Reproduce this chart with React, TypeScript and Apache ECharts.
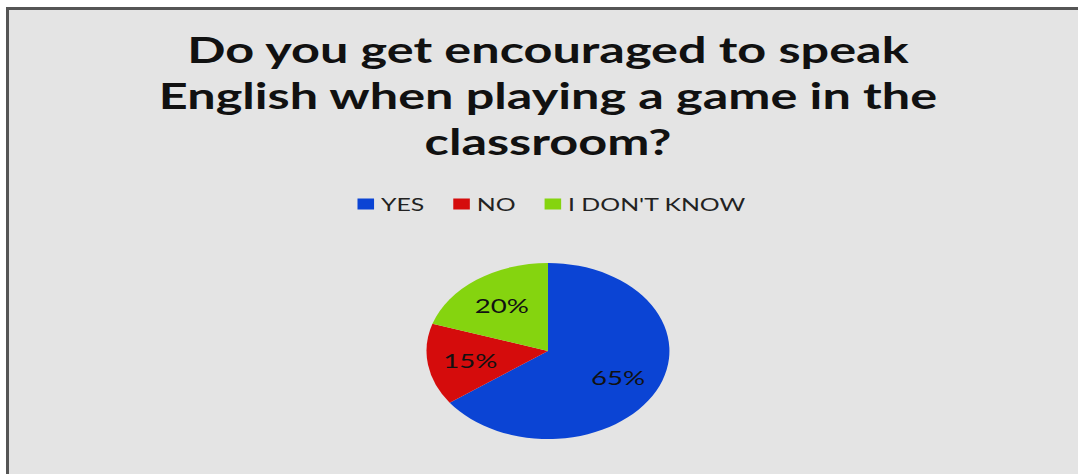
import React, { useEffect, useRef } from "react";
import * as echarts from "echarts";

const titleLines = [
  "Do you get encouraged to speak",
  "English when playing a game in the",
  "classroom?",
];
const categories = ["YES", "NO", "I DON'T KNOW"];
const values = [65, 15, 20];
const colors = ["#0b44d4", "#d50c0c", "#85d40f"];

const STRETCH = 1.38;
const W = Math.round(1078 / STRETCH);
const H = 474;
const CX = 397;

export default function App() {
  const ref = useRef<HTMLDivElement>(null);
  useEffect(() => {
    if (!ref.current) return;
    const chart = echarts.init(ref.current, null, { renderer: "svg", width: W, height: H });
    const data = categories.map((name, i) => ({ name, value: values[i] }));
    chart.setOption({
      animation: false,
      backgroundColor: "transparent",
      color: colors,
      title: {
        text: titleLines.join("\n"),
        left: CX - 5,
        top: 21,
        textAlign: "center",
        textStyle: {
          fontFamily: "Lato",
          fontWeight: "bold",
          fontSize: 36.5,
          lineHeight: 46,
          color: "#111",
        },
      },
      legend: {
        data: categories,
        left: 254,
        top: 190,
        itemWidth: 12,
        itemHeight: 11,
        itemGap: 21,
        icon: "rect",
        textStyle: { fontFamily: "Lato", fontSize: 18, color: "#222" },
      },
      series: [
        {
          type: "pie",
          center: [CX, 351],
          radius: [0, 88],
          data,
          silent: true,
          itemStyle: { borderWidth: 0 },
          label: { show: false },
          labelLine: { show: false },
        },
        {
          type: "pie",
          center: [CX, 351],
          radius: [0, 108],
          data,
          silent: true,
          itemStyle: { color: "transparent", borderWidth: 0 },
          label: {
            show: true,
            position: "inside",
            formatter: "{c}%",
            fontFamily: "Lato",
            fontSize: 20,
            color: "#111",
          },
          labelLine: { show: false },
        },
      ],
    });
    return () => chart.dispose();
  }, []);

  return (
    <div
      style={{
        position: "absolute",
        left: 0,
        top: 0,
        width: 1078,
        height: 474,
        background: "#ffffff",
        overflow: "hidden",
      }}
    >
      <div
        style={{
          position: "absolute",
          left: 6,
          top: 7,
          width: 1100,
          height: 500,
          background: "#e4e4e4",
          borderLeft: "3px solid #555555",
          borderTop: "3px solid #555555",
        }}
      />
      <div
        ref={ref}
        style={{
          position: "absolute",
          left: 0,
          top: 0,
          width: W,
          height: H,
          transform: `scaleX(${1078 / W})`,
          transformOrigin: "0 0",
        }}
      />
    </div>
  );
}
